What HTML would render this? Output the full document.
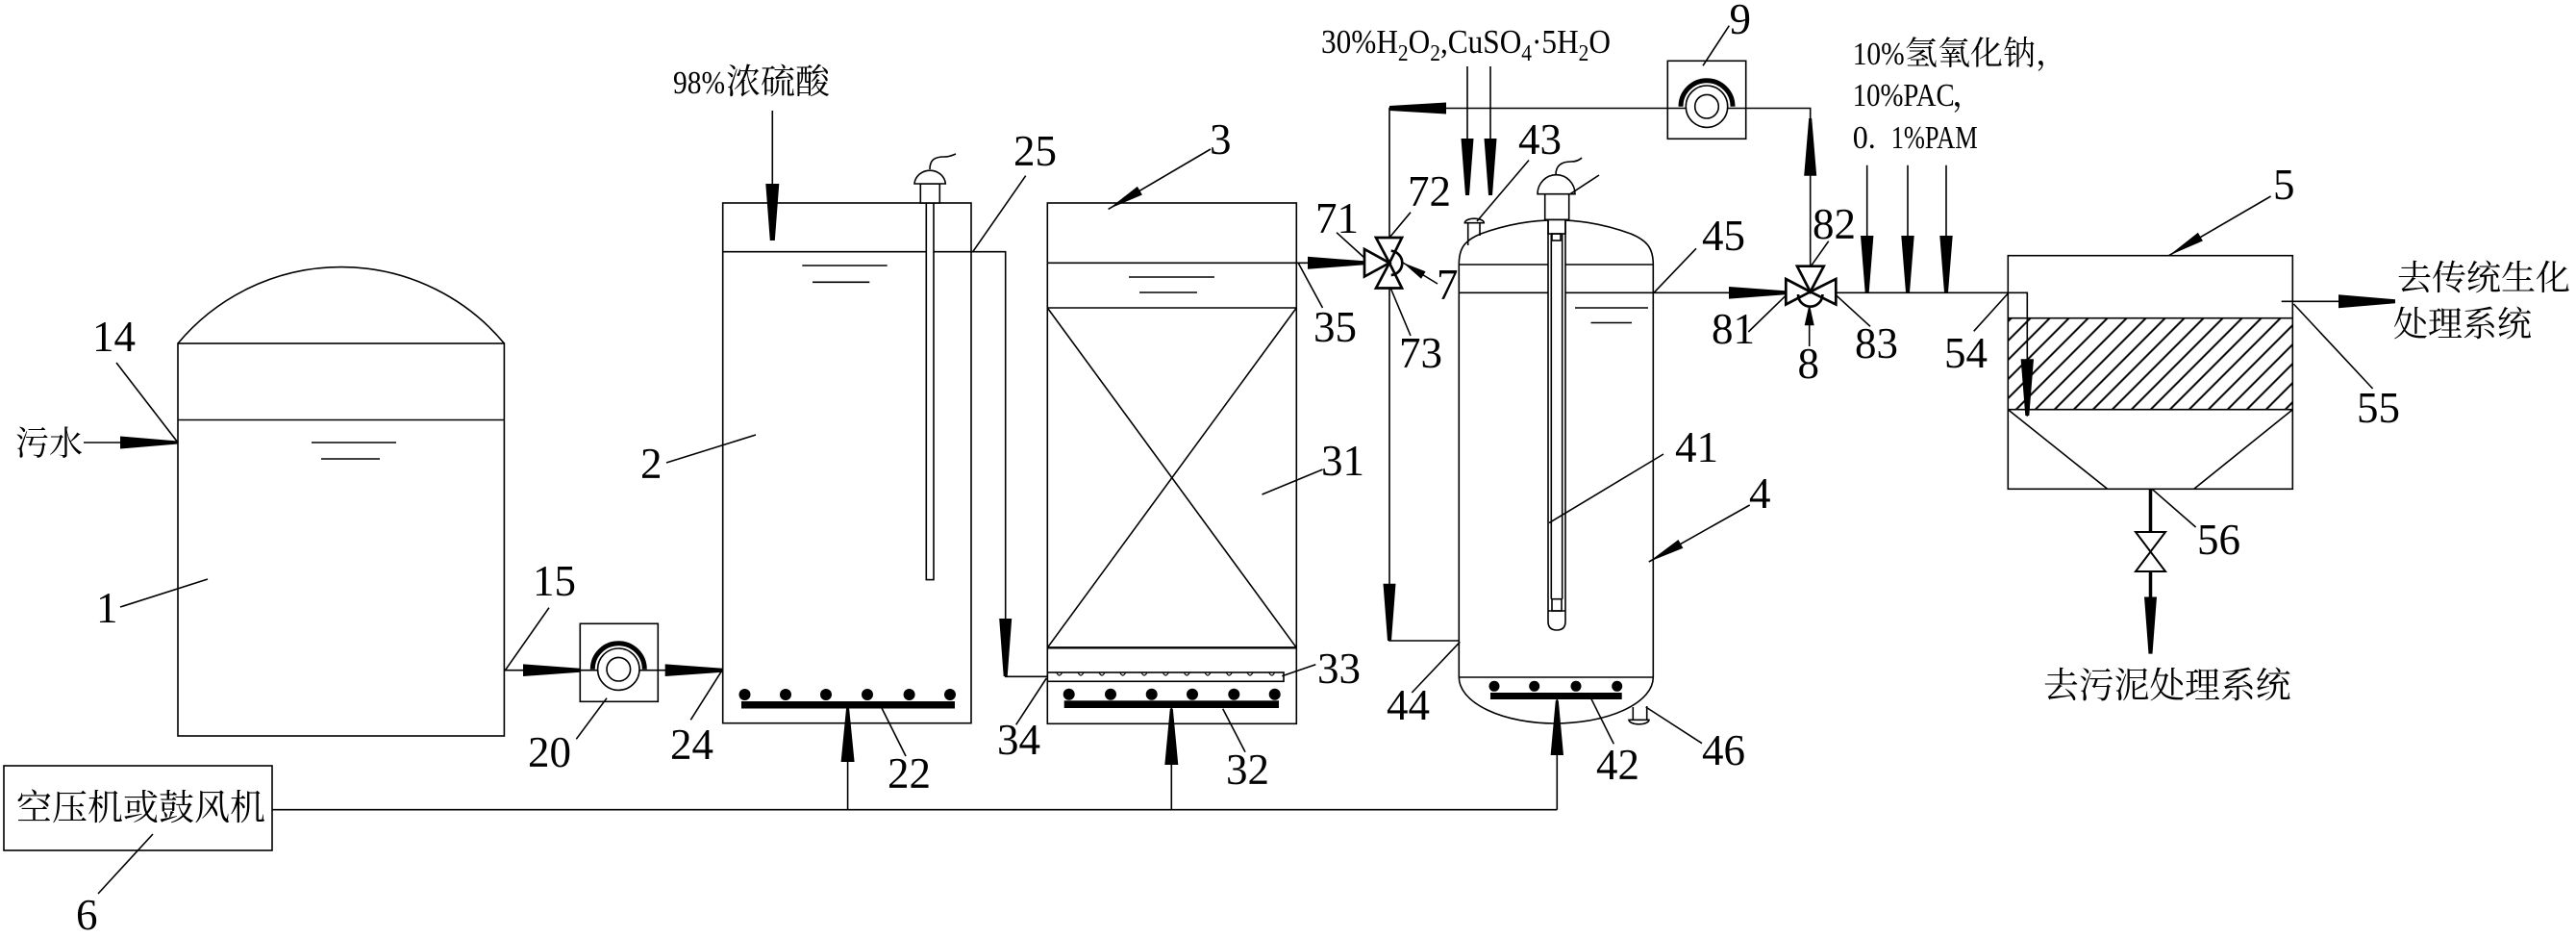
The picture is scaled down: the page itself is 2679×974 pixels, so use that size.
<!DOCTYPE html>
<html><head><meta charset="utf-8">
<style>
html,body{margin:0;padding:0;background:#fff;}
svg{display:block;}
</style></head><body>
<svg width="2679" height="974" viewBox="0 0 2679 974" xmlns="http://www.w3.org/2000/svg">
<defs>
<pattern id="h" width="14.14" height="14.14" patternUnits="userSpaceOnUse" patternTransform="translate(2111.7,330.7) rotate(45) translate(-7.07,0)">
<line x1="7.07" y1="-2" x2="7.07" y2="16.2" stroke="#000" stroke-width="2"/>
</pattern>
</defs>
<rect width="2679" height="974" fill="#fff"/>

<g fill="none" stroke="#000" stroke-width="1.6">
<!-- Tank 1 -->
<rect x="185" y="357" width="339.4" height="408"/>
<path d="M185,357 A221,221 0 0 1 524.4,357"/>
<line x1="185" y1="436.5" x2="524.4" y2="436.5"/>
<line x1="324" y1="460" x2="412" y2="460"/>
<line x1="334" y1="477" x2="395" y2="477"/>
<line x1="87" y1="460" x2="185" y2="460"/>
<line x1="121" y1="377" x2="185" y2="460"/>
<line x1="125" y1="631" x2="216" y2="602"/>

<!-- Pump 20 -->
<line x1="524.4" y1="696.7" x2="751.7" y2="696.7"/>
<rect x="603.3" y="648.3" width="81" height="81"/>
<circle cx="643.3" cy="695.7" r="21.7" fill="#fff"/>
<circle cx="643.3" cy="695.7" r="12.3"/>
<path d="M616.3,695.7 A27,27 0 0 1 670.3,695.7" stroke-width="5"/>
<line x1="571" y1="631.7" x2="525" y2="697.3"/>
<line x1="599.3" y1="768.3" x2="631" y2="725.7"/>
<line x1="718.3" y1="748.3" x2="750" y2="698.3"/>

<!-- Blower -->
<rect x="4" y="796" width="279" height="88"/>
<line x1="283" y1="841.7" x2="1619.3" y2="841.7"/>
<line x1="102" y1="929" x2="159" y2="867"/>
<line x1="881.6" y1="841.7" x2="881.6" y2="736"/>
<line x1="1218.3" y1="841.7" x2="1218.3" y2="736"/>
<line x1="1619.3" y1="841.7" x2="1619.3" y2="727"/>

<!-- Tank 2 -->
<rect x="751.7" y="211" width="258.3" height="540.7"/>
<polyline points="751.7,261.7 1045.7,261.7 1045.7,703.3 1089.3,703.3"/>
<line x1="834.3" y1="276" x2="922.7" y2="276"/>
<line x1="845" y1="293.3" x2="904.3" y2="293.3"/>
<line x1="803.3" y1="115" x2="803.3" y2="250"/>
<rect x="963.3" y="211" width="7.7" height="391.6" fill="#fff"/>
<rect x="957.3" y="191" width="20" height="20" fill="#fff"/>
<path d="M951,191 A16.2,15 0 0 1 983.3,191 Z" fill="#fff"/>
<path d="M967,176 C967,166 972,163 982,163 C988,163 991,161 994,160"/>
<line x1="693" y1="481" x2="786" y2="452"/>
<line x1="942" y1="786" x2="917" y2="736"/>
<line x1="1066.7" y1="182.7" x2="1011.7" y2="261.7"/>

<!-- Tank 3 -->
<rect x="1089.3" y="211" width="259" height="541.3"/>
<line x1="1089.3" y1="273.3" x2="1419" y2="273.3"/>
<line x1="1089.3" y1="320" x2="1348.3" y2="320"/>
<line x1="1089.3" y1="673.3" x2="1348.3" y2="673.3" stroke-width="2.4"/>
<line x1="1089.3" y1="320" x2="1348.3" y2="673.3"/>
<line x1="1348.3" y1="320" x2="1089.3" y2="673.3"/>
<line x1="1174" y1="288" x2="1263" y2="288"/>
<line x1="1185" y1="304" x2="1245" y2="304"/>
<rect x="1089.3" y="699" width="245.7" height="9.3"/>
<path stroke-width="1.2" d="M1098.7,699 Q1101.7,705 1104.7,699 M1121,699 Q1124,705 1127,699 M1143,699 Q1146,705 1149,699 M1164.7,699 Q1167.7,705 1170.7,699 M1187,699 Q1190,705 1193,699 M1209.3,699 Q1212.3,705 1215.3,699 M1231.3,699 Q1234.3,705 1237.3,699 M1253,699 Q1256,705 1259,699 M1275.3,699 Q1278.3,705 1281.3,699 M1297,699 Q1300,705 1303,699 M1319.7,699 Q1322.7,705 1325.7,699"/>
<line x1="1259" y1="155" x2="1152.6" y2="217.4"/>
<line x1="1375.5" y1="488" x2="1312.5" y2="514"/>
<line x1="1368.3" y1="690.7" x2="1333.3" y2="702.7"/>
<line x1="1056.7" y1="753.3" x2="1088.3" y2="705"/>
<line x1="1295" y1="781.7" x2="1271.7" y2="736.7"/>
<line x1="1375.5" y1="320" x2="1350" y2="273"/>

<!-- Return loop & pump 9 -->
<polyline points="1445,247 1445,112.5 1882.7,112.5 1882.7,276.7"/>
<polyline points="1445,299 1445,666 1517.3,666"/>
<rect x="1734.3" y="63.3" width="81.4" height="81"/>
<circle cx="1775" cy="110.7" r="21.7" fill="#fff"/>
<circle cx="1775" cy="110.7" r="12.3"/>
<path d="M1748,110.7 A27,27 0 0 1 1802,110.7" stroke-width="5"/>
<line x1="1798.3" y1="26.7" x2="1771" y2="68.3"/>
<line x1="1526" y1="69" x2="1526" y2="203"/>
<line x1="1550" y1="69" x2="1550" y2="203"/>

<!-- Valve 7 labels -->
<line x1="1467" y1="220.7" x2="1445" y2="247"/>
<line x1="1390" y1="241.7" x2="1419" y2="268"/>
<line x1="1495" y1="295" x2="1459" y2="273"/>
<line x1="1467" y1="349" x2="1446" y2="299"/>

<!-- Tank 4 -->
<path d="M1517.3,704 L1517.3,275 C1517.3,258 1523,250 1540,243 Q1618,214.6 1696,243 C1713,250 1719.3,258 1719.3,275 L1719.3,704"/>
<path d="M1517.3,704 A100,48 0 0 0 1617,752 A102.3,48 0 0 0 1719.3,704"/>
<line x1="1517.3" y1="275" x2="1719.3" y2="275"/>
<line x1="1517.3" y1="304.3" x2="1857.3" y2="304.3"/>
<line x1="1517.3" y1="704" x2="1719.3" y2="704"/>
<line x1="1638" y1="320" x2="1714" y2="320"/>
<line x1="1654.5" y1="335.5" x2="1697" y2="335.5"/>
<path d="M1526.7,255 L1526.7,231.7 M1539,245 L1539,231.7"/>
<path d="M1523.3,231.7 A10,4.5 0 0 1 1543.3,231.7 Z" fill="#fff"/>
<path d="M1610,228.3 L1610,646 Q1610,655 1619,655 Q1628,655 1628,646 L1628,228.3 Z" fill="#fff"/>
<line x1="1613.3" y1="243" x2="1613.3" y2="622.7"/>
<line x1="1624.7" y1="243" x2="1624.7" y2="622.7"/>
<rect x="1610" y="228.3" width="18" height="14.7"/>
<rect x="1614" y="243" width="9" height="7"/>
<rect x="1614" y="622.7" width="10" height="12.3"/>
<line x1="1610" y1="635" x2="1628" y2="635"/>
<rect x="1606.7" y="201.7" width="25" height="26.6" fill="#fff"/>
<path d="M1599,201.7 A19.5,20 0 0 1 1638,201.7 Z" fill="#fff"/>
<path d="M1618,181.7 C1618,172 1624,168 1634,168 C1640,168 1643,166 1645,164"/>
<line x1="1633" y1="201.7" x2="1663" y2="182"/>
<path d="M1698.3,735 L1698.3,748.3 M1712.7,734 L1712.7,748.3"/>
<path d="M1694,748.3 A10.5,4.5 0 0 0 1715,748.3 Z" fill="#fff"/>
<line x1="1590" y1="166.5" x2="1536" y2="230"/>
<line x1="1730" y1="472" x2="1611" y2="543.6"/>
<line x1="1819.7" y1="525" x2="1714.8" y2="584"/>
<line x1="1764" y1="258.3" x2="1720" y2="304.3"/>
<line x1="1468.3" y1="720" x2="1518.3" y2="667.3"/>
<line x1="1770" y1="772.7" x2="1711.7" y2="735"/>
<line x1="1678.3" y1="773.3" x2="1655" y2="726.7"/>

<!-- Valve 8 area -->
<polyline points="1909.3,304.3 2108.3,304.3 2108.3,432.7"/>
<line x1="1881.7" y1="360" x2="1881.7" y2="320"/>
<line x1="1941.7" y1="171.7" x2="1941.7" y2="304.3"/>
<line x1="1984" y1="171.7" x2="1984" y2="304.3"/>
<line x1="2024" y1="171.7" x2="2024" y2="304.3"/>
<line x1="1901.7" y1="250.7" x2="1883.3" y2="276.7"/>
<line x1="1818.3" y1="345" x2="1856.7" y2="307.7"/>
<line x1="1945" y1="339.3" x2="1909.3" y2="306.7"/>

<!-- Tank 5 -->
<rect x="2088.3" y="330.7" width="296" height="95" fill="url(#h)" stroke="none"/>
<rect x="2088.3" y="265.7" width="296" height="242.6"/>
<line x1="2088.3" y1="330.7" x2="2384.3" y2="330.7"/>
<line x1="2088.3" y1="425.7" x2="2384.3" y2="425.7"/>
<line x1="2088.3" y1="425.7" x2="2191.7" y2="508.3"/>
<line x1="2384.3" y1="425.7" x2="2281.7" y2="508.3"/>
<line x1="2372.7" y1="313.3" x2="2491" y2="313.3"/>
<line x1="2236.5" y1="508.3" x2="2236.5" y2="553" stroke-width="3.5"/>
<line x1="2236.5" y1="594" x2="2236.5" y2="630" stroke-width="3.5"/>
<polygon points="2221,553 2252,553 2236.5,573.5" stroke-width="2"/>
<polygon points="2221,594 2252,594 2236.5,573.5" stroke-width="2"/>
<line x1="2361.6" y1="204" x2="2255.5" y2="265.7"/>
<line x1="2052.7" y1="344.3" x2="2088.3" y2="305"/>
<line x1="2467.6" y1="404" x2="2385.4" y2="316"/>
<line x1="2283.6" y1="548" x2="2238" y2="508.3"/>
</g>

<!-- Valves (thick outlines) -->
<g fill="#fff" stroke="#000" stroke-width="2.7" stroke-linejoin="miter">
<polygon points="1419,259 1419,287.5 1445,273.3"/>
<polygon points="1431,247 1458,247 1445,273.3"/>
<polygon points="1431,299.5 1458,299.5 1445,273.3"/>
<path d="M1446.7,260.7 A12.7,12.7 0 0 1 1446.7,286" fill="none"/>
<polygon points="1857.3,290 1857.3,316.5 1882.7,303.3"/>
<polygon points="1909.3,290 1909.3,316.5 1882.7,303.3"/>
<polygon points="1869,276.7 1896.7,276.7 1882.7,303.3"/>
<path d="M1870,306 A12.7,12.7 0 0 0 1895.4,306" fill="none"/>
</g>

<!-- Filled wedges / arrows -->
<g fill="#000" stroke="none">
<polygon points="125,453.5 185,458.5 185,461.5 125,466.5"/>
<polygon points="544,690.4 603.3,694.7 603.3,698.7 544,703"/>
<polygon points="691.7,690.4 751.7,694.7 751.7,698.7 691.7,703"/>
<polygon points="796.3,191 810.3,191 805.8,250 800.8,250"/>
<polygon points="1039.2,643 1052.2,643 1047.7,703 1043.7,703"/>
<polygon points="874.6,792 888.6,792 883.1,736 880.1,736"/>
<polygon points="1211.3,795 1225.3,795 1219.8,736.7 1216.8,736.7"/>
<polygon points="1612.6,785 1626,785 1620.8,728.3 1617.8,728.3"/>
<polygon points="1360,266.8 1419,271.3 1419,275.3 1360,279.8"/>
<polygon points="1504,106.5 1445,110 1445,115 1504,118.5"/>
<polygon points="1438.5,606.7 1451.5,606.7 1447,666 1443,666"/>
<polygon points="1519.5,144 1532.5,144 1528,203 1524,203"/>
<polygon points="1543.5,144 1556.5,144 1552,203 1548,203"/>
<polygon points="1798,298 1856.7,302.3 1856.7,306.3 1798,310.6"/>
<polygon points="1876.2,182.7 1889.2,182.7 1884.2,123 1881.2,123"/>
<polygon points="1876.7,338.3 1886.7,338.3 1882.7,320 1880.7,320"/>
<polygon points="1935,245 1948.4,245 1943.7,304 1939.7,304"/>
<polygon points="1977.3,245 1990.7,245 1986,304 1982,304"/>
<polygon points="2017.3,245 2030.7,245 2026,304 2022,304"/>
<polygon points="2101.6,373.3 2115,373.3 2110.3,432 2106.3,432"/>
<polygon points="2432,306.3 2491,311.3 2491,315.3 2432,320.3"/>
<polygon points="2230,620.5 2243,620.5 2238.5,679.6 2234.5,679.6"/>
<polygon points="1187.9,202.5 1182.9,193.9 1152.6,217.4"/>
<polygon points="1750.35,569.75 1745.45,561.05 1714.8,584"/>
<polygon points="2290.9,250.4 2285.9,241.8 2255.5,265.7"/>
<polygon points="1482.6,282.2 1478,289.8 1459,273"/>
<rect x="771" y="729" width="222" height="7.5"/>
<rect x="1106.7" y="728.3" width="223.3" height="7.7"/>
<rect x="1550" y="720" width="136.7" height="7"/>
<circle cx="774.5" cy="722" r="6"/><circle cx="817" cy="722" r="6"/><circle cx="859" cy="722" r="6"/>
<circle cx="902" cy="722" r="6"/><circle cx="945.6" cy="722" r="6"/><circle cx="988" cy="722" r="6"/>
<circle cx="1111.7" cy="721.7" r="6"/><circle cx="1155" cy="721.7" r="6"/><circle cx="1197.7" cy="721.7" r="6"/>
<circle cx="1240" cy="721.7" r="6"/><circle cx="1283.3" cy="721.7" r="6"/><circle cx="1325.7" cy="721.7" r="6"/>
<circle cx="1554" cy="713.3" r="5.5"/><circle cx="1595.7" cy="713.3" r="5.5"/><circle cx="1639" cy="713.3" r="5.5"/><circle cx="1681.7" cy="713.3" r="5.5"/>
</g>

<!-- Number labels -->
<g font-family="'Liberation Serif', serif" font-size="45" fill="#000">
<text x="96" y="365">14</text>
<text x="100" y="647">1</text>
<text x="554" y="619">15</text>
<text x="549" y="797">20</text>
<text x="697" y="789">24</text>
<text x="666" y="497">2</text>
<text x="79" y="966">6</text>
<text x="923" y="819">22</text>
<text x="1054" y="172">25</text>
<text x="1258" y="160">3</text>
<text x="1374" y="494">31</text>
<text x="1370" y="710">33</text>
<text x="1037" y="784">34</text>
<text x="1275" y="815">32</text>
<text x="1366" y="355">35</text>
<text x="1368" y="242">71</text>
<text x="1464" y="214">72</text>
<text x="1494" y="311">7</text>
<text x="1455" y="382">73</text>
<text x="1579" y="160">43</text>
<text x="1798.5" y="35">9</text>
<text x="1742" y="480">41</text>
<text x="1819" y="528">4</text>
<text x="1770" y="260">45</text>
<text x="1442" y="748">44</text>
<text x="1770" y="795">46</text>
<text x="1660" y="810">42</text>
<text x="1885" y="248">82</text>
<text x="1780" y="357">81</text>
<text x="1869.5" y="393">8</text>
<text x="1929" y="372">83</text>
<text x="2022" y="382">54</text>
<text x="2364" y="207">5</text>
<text x="2451" y="439">55</text>
<text x="2285" y="576">56</text>
</g>

<!-- Text labels -->
<g font-family="'Liberation Serif', 'Noto Serif CJK SC', serif" fill="#000">
<text x="16" y="473" font-size="35">污水</text>
<text x="17" y="852" font-size="37">空压机或鼓风机</text>
<text x="700" y="97" font-size="34" textLength="54" lengthAdjust="spacingAndGlyphs">98%</text>
<text x="755" y="97" font-size="36">浓硫酸</text>
<text x="1374" y="55" font-size="35" textLength="301" lengthAdjust="spacingAndGlyphs">30%H<tspan dy="8" font-size="24">2</tspan><tspan dy="-8">O</tspan><tspan dy="8" font-size="24">2</tspan><tspan dy="-8">,CuSO</tspan><tspan dy="8" font-size="24">4</tspan><tspan dy="-8">·5H</tspan><tspan dy="8" font-size="24">2</tspan><tspan dy="-8">O</tspan></text>
<text x="1926.7" y="67" font-size="34" textLength="54" lengthAdjust="spacingAndGlyphs">10%</text>
<text x="1981" y="67" font-size="34">氢氧化钠，</text>
<text x="1926.7" y="110" font-size="34" textLength="106" lengthAdjust="spacingAndGlyphs">10%PAC</text>
<text x="2030" y="110" font-size="34">，</text>
<text x="1926.7" y="154" font-size="34" textLength="24" lengthAdjust="spacingAndGlyphs">0.</text>
<text x="1966.7" y="154" font-size="34" textLength="90" lengthAdjust="spacingAndGlyphs">1%PAM</text>
<text x="2493" y="301" font-size="36">去传统生化</text>
<text x="2489" y="349" font-size="36">处理系统</text>
<text x="2125" y="725" font-size="36.8">去污泥处理系统</text>
</g>
</svg>
</body></html>
